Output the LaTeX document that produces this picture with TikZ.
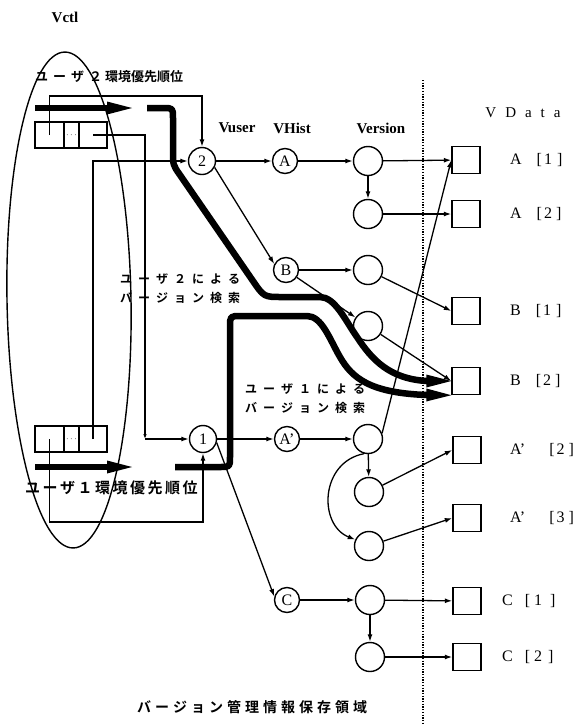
\documentclass[tikz,border=0pt]{standalone}
\usepackage{fontspec}
\setmainfont{Liberation Serif}
\newfontfamily\jp{Noto Sans CJK JP}[BoldFont={* Bold}]
\usetikzlibrary{arrows.meta}
\makeatletter
\newcommand\spc[2]{\def\spcsep{}\@tfor\spcx:=#2\do{\spcsep\spcx\def\spcsep{\kern#1}}}
\makeatother
\begin{document}
\begin{tikzpicture}[x=1pt,y=-1pt,
  conn/.style={line width=1.3pt,-{Latex[length=7.5pt,width=5pt]}},
  miniconn/.style={line width=1.3pt,-{Latex[length=5pt,width=3.6pt]}},
  fatarrow/.style={line width=6.5pt,line join=round,-{Triangle[length=25pt,width=13pt,line width=0pt]}},
  ucirc/.style={circle,draw,line width=1.4pt,minimum size=27pt,inner sep=0pt,font=\fontsize{16}{16}\selectfont},
  hcirc/.style={circle,draw,line width=1.4pt,minimum size=25pt,inner sep=0pt,font=\fontsize{16}{16}\selectfont},
  vcirc/.style={circle,draw,line width=1.4pt,minimum size=29pt,inner sep=0pt},
  dsq/.style={draw,line width=1.4pt,minimum width=28pt,minimum height=27pt,inner sep=0pt},
  cellb/.style={draw,line width=1.3pt,minimum height=26pt,inner sep=0pt},
  hdr/.style={font=\bfseries\fontsize{15}{15}\selectfont},
  dlab/.style={anchor=west,font=\fontsize{16}{16}\selectfont,inner sep=0pt},
  jlab/.style={font=\jp\bfseries\fontsize{12}{12}\selectfont,anchor=west,inner sep=0pt},
]
\useasboundingbox (0,0) rectangle (586,724);

% Vctl ellipse
\draw[line width=1.4pt, rotate around={1:(69,300)}] (69,300) ellipse [x radius=62, y radius=248];

% headers
\node[hdr] (vctl) at (65,17) {Vctl};
\node[hdr] (huser) at (237,128) {Vuser};
\node[hdr] (hhist) at (292,128) {VHist};
\node[hdr] (hver) at (381,128) {Version};
\node[font=\fontsize{15}{15}\selectfont] (hdata) at (523,113) {\spc{9pt}{VData}};

% dotted boundary
\coordinate (dtop) at (423,80);
\coordinate (dbot) at (423,724);
\draw[line width=2pt, dash pattern=on 1.3pt off 1.4pt] (dtop) -- (dbot);

% Vctl boxes
\node[cellb, minimum width=29pt] (c2a) at (49.5,135) {};
\node[cellb, minimum width=15pt] (c2b) at (71.5,135) {\fontsize{9}{9}\selectfont$\cdots$};
\node[cellb, minimum width=28pt] (c2c) at (93,135) {};
\node[cellb, minimum width=29pt] (c1a) at (49.5,439) {};
\node[cellb, minimum width=15pt] (c1b) at (71.5,439) {\fontsize{9}{9}\selectfont$\cdots$};
\node[cellb, minimum width=28pt] (c1c) at (93,439) {};

% env texts
\node[font=\jp\bfseries\fontsize{13}{13}\selectfont,anchor=west,inner sep=0pt] (env2) at (35,77) {\spc{5pt}{ユーザ２}\kern3pt 環境優先順位};
\node[font=\jp\bfseries\fontsize{15}{15}\selectfont,anchor=west,inner sep=0pt] (env1) at (25,488) {\spc{2.5pt}{ユーザ１環境優先順位}};

% Vuser nodes
\node[ucirc] (n2) at (202,161) {2};
\node[ucirc] (n1) at (203,439) {1};

% VHist nodes
\node[hcirc] (hA) at (285,161) {A};
\node[hcirc] (hB) at (286,270) {B};
\node[hcirc] (hP) at (287,439) {A’};
\node[hcirc] (hC) at (287,600) {C};

% Version nodes
\node[vcirc] (vA1) at (368,161) {};
\node[vcirc] (vA2) at (368,214) {};
\node[vcirc] (vB1) at (368,270) {};
\node[vcirc] (vB2) at (368,326) {};
\node[vcirc] (vP1) at (368,439) {};
\node[vcirc] (vP2) at (369,492) {};
\node[vcirc] (vP3) at (369,546) {};
\node[vcirc] (vC1) at (370,600) {};
\node[vcirc] (vC2) at (370,657) {};

% VData squares
\node[dsq] (dA1) at (466,160) {};
\node[dsq] (dA2) at (466,214) {};
\node[dsq] (dB1) at (466,311) {};
\node[dsq] (dB2) at (466,381) {};
\node[dsq] (dP2) at (467,450) {};
\node[dsq] (dP3) at (467,518) {};
\node[dsq] (dC1) at (467,601) {};
\node[dsq] (dC2) at (467,657) {};

% data labels
\node[dlab] (lA1) at (510,160) {A\hspace{15pt}[\hspace{2pt}1\hspace{5pt}]};
\node[dlab] (lA2) at (510,214) {A\hspace{15pt}[\hspace{2pt}2\hspace{4pt}]};
\node[dlab] (lB1) at (510,311) {B\hspace{15pt}[\hspace{2pt}1\hspace{5pt}]};
\node[dlab] (lB2) at (510,381) {B\hspace{15pt}[\hspace{2pt}2\hspace{4pt}]};
\node[dlab] (lP2) at (510,450) {A’\hspace{24pt}[\hspace{2pt}2\hspace{4pt}]};
\node[dlab] (lP3) at (510,518) {A’\hspace{24pt}[\hspace{2pt}3\hspace{4pt}]};
\node[dlab] (lC1) at (502,601) {C\hspace{12pt}[\hspace{4pt}1\hspace{8pt}]};
\node[dlab] (lC2) at (502,657) {C\hspace{12pt}[\hspace{4pt}2\hspace{6pt}]};

% search texts
\node[jlab] (s2a) at (120,279) {\spc{6pt}{ユーザ２による}};
\node[jlab] (s2b) at (120,298) {\spc{6pt}{バージョン検索}};
\node[jlab] (s1a) at (245,389) {\spc{6pt}{ユーザ１による}};
\node[jlab] (s1b) at (245,408) {\spc{6pt}{バージョン検索}};
\node[font=\jp\bfseries\fontsize{14}{14}\selectfont,anchor=west,inner sep=0pt] (area) at (137,707) {\spc{4pt}{バージョン管理情報保存領域}};

% Vctl -> Vuser links
\coordinate (r2top) at (202,96);
\draw[conn] (c2a.center) |- (r2top) -- (n2.north);
\coordinate (k1) at (145,439);
\draw[miniconn] (c2c.center) -| (k1);
\draw[conn] (k1) -- (n1.west);
\draw[conn] (c1c.center) |- (n2.west);
\coordinate (r1bot) at (203,522);
\draw[conn] (c1a.center) |- (r1bot) -- (n1.south);

% graph connectors
\draw[conn] (n2) -- (hA);
\draw[conn] (hA) -- (vA1);
\draw[conn] (vA1) -- (dA1);
\draw[conn] (vA1) -- (vA2);
\draw[conn] (vA2) -- (dA2);
\draw[conn] (n2.-27) -- (hB.153);
\draw[conn] (hB) -- (vB1);
\draw[conn] (hB) -- (vB2);
\draw[conn] (vB1) -- (dB1.west);
\draw[conn] (vB2) -- (dB2.west);
\draw[conn] (n1) -- (hP);
\draw[conn] (hP) -- (vP1);
\draw[conn] (vP1.22) -- (dA1.west);
\draw[conn] (vP1) -- (vP2);
\draw[conn] (vP1.255) .. controls (320,462) and (318,525) .. (vP3.155);
\draw[conn] (vP2) -- (dP2.west);
\draw[conn] (vP3) -- (dP3.west);
\draw[conn] (n1.-15) -- (hC.165);
\draw[conn] (hC) -- (vC1);
\draw[conn] (vC1) -- (dC1);
\draw[conn] (vC1) -- (vC2);
\draw[conn] (vC2) -- (dC2);

% environment priority arrows
\coordinate (e2s) at (35,108);
\coordinate (e2t) at (132,108);
\coordinate (e1s) at (35,467);
\coordinate (e1t) at (132,467);
\draw[fatarrow] (e2s) -- (e2t);
\draw[fatarrow] (e1s) -- (e1t);

% search paths
\coordinate (u2s) at (147,108);
\coordinate (u1s) at (175,467);
\draw[fatarrow] (u2s) -- (163,108) .. controls (173,108) .. (173,118) -- (173,152)
  .. controls (173,165) .. (180,175) -- (253,281) .. controls (264,297) .. (282,297)
  -- (320,297) .. controls (335,297) and (345,320) .. (357,337)
  .. controls (372,360) and (390,379) .. (427,381) -- (dB2.west);
\draw[fatarrow] (u1s) -- (220,467) .. controls (230,467) .. (230,457) -- (230,327)
  .. controls (230,316) .. (241,316) -- (307,316)
  .. controls (322,316) and (330,340) .. (340,357)
  .. controls (352,378) and (370,393) .. (427,395) -- (dB2.south west);
\end{tikzpicture}
\end{document}
